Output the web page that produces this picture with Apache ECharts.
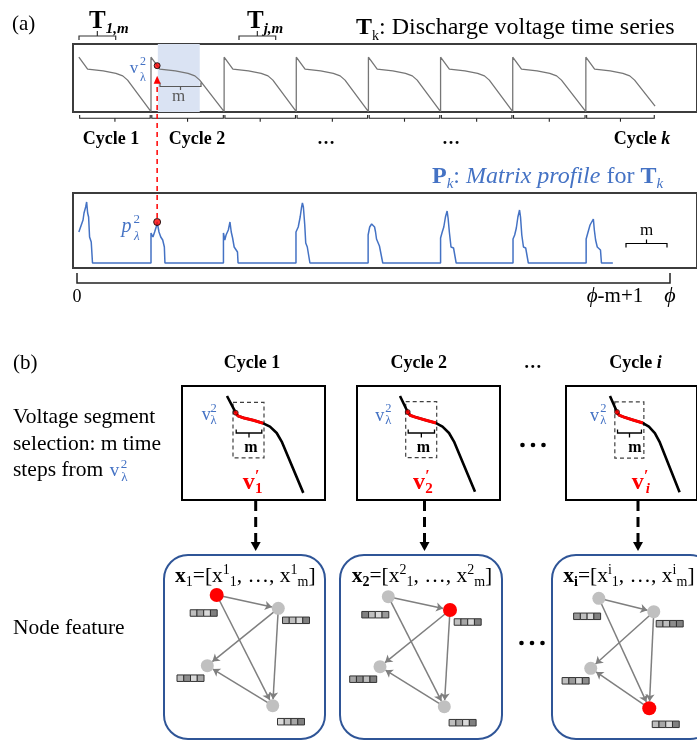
<!DOCTYPE html>
<html><head><meta charset="utf-8">
<script src="https://cdn.jsdelivr.net/npm/echarts@6/dist/echarts.min.js"></script>
<style>html,body{margin:0;padding:0;background:#fff}#c{width:697px;height:740px}</style>
</head><body><div id="c"></div>
<script>
// ---------------- DATA ----------------
const cycleStarts = [6, 80, 155, 229, 303, 377, 451, 526];
const lastCycleEnd = 597;
const voltageSeries = [
  [6,3.29],[15,3.01],[31,2.97],[44,2.91],[51,2.85],[56,2.75],[80,2.01],
  [80,3.29],[89,3.01],[105,2.97],[118,2.91],[125,2.85],[130,2.75],[155,2.01],
  [155,3.29],[164,3.01],[180,2.97],[193,2.91],[200,2.85],[205,2.75],[229,2.01],
  [229,3.29],[238,3.01],[254,2.97],[267,2.91],[274,2.85],[279,2.75],[303,2.01],
  [303,3.29],[312,3.01],[328,2.97],[341,2.91],[348,2.85],[353,2.75],[377,2.01],
  [377,3.29],[386,3.01],[402,2.97],[415,2.91],[422,2.85],[427,2.75],[451,2.01],
  [451,3.29],[460,3.01],[476,2.97],[489,2.91],[496,2.85],[501,2.75],[526,2.01],
  [526,3.29],[535,3.01],[551,2.97],[564,2.91],[571,2.85],[576,2.75],[597,2.14]
];
const voltagePoint = [86.3, 3.09];
const shadedWindow = [87, 130];
const profileSeries = [
  [6,3.1],[10.3,4.3],[11.3,5.0],[13,5.6],[14,6.1],[15,5.0],[16,4.6],[17,2.6],[18.7,2.1],[19.7,2.0],[20,0],
  [80,0],[80,3.0],[82,2.6],[83.7,3.1],[85.3,3.6],[86.3,4.1],[88.2,3.1],[90,2.6],[92,2.3],[93.7,1.6],[94.3,0],
  [154.3,0],[154.3,3.0],[155.7,2.3],[157,2.8],[159.3,3.3],[161,4.1],[162.3,3.1],[163.7,2.5],[165.3,1.6],[167,1.4],[168.7,1.1],[169.3,0],
  [228.7,0],[228.7,3.1],[231,3.6],[233,4.6],[234.3,5.5],[235.3,6.0],[236.3,5.6],[237,5.8],[237.7,3.8],[238.7,2.0],[240.3,1.6],[242,1.4],[243,0],
  [302.7,0],[302.7,2.8],[304.3,3.6],[306.3,3.9],[307.7,4.1],[309.3,3.6],[310.3,3.1],[311.3,2.4],[313,2.3],[314.3,1.7],[316.3,1.6],[317.7,0],
  [377,0],[377,2.5],[378.7,3.1],[380.3,3.6],[382,4.6],[383.7,5.2],[384.7,4.5],[386,3.1],[387.7,1.6],[390.3,1.5],[392.3,1.4],[393,0],
  [451.3,0],[451.3,2.4],[453,2.8],[454.7,3.5],[456.3,4.6],[458,5.3],[459,4.6],[460.3,2.8],[462,1.6],[464.3,1.5],[466.3,1.4],[467,0],
  [526.3,0],[526.3,2.4],[528,3.0],[530.3,3.8],[532,4.0],[533.7,4.4],[534.7,3.3],[536,2.3],[537.7,1.6],[539.7,1.4],[541,1.3],[542,0],
  [553.7,0]
];
const profilePoint = [86.3, 4.1];

const segCurve1 = [[45,3.46],[53.7,3.225],[56,3.18],[62,3.15],[71.3,3.12],[81.3,3.076],[88,3.03],[94.7,2.94],[99.7,2.82],[121.3,2.10]];
const segCurve2 = [[43,3.46],[50.7,3.235],[53,3.19],[59,3.16],[69,3.12],[79,3.08],[85.5,3.03],[92,2.94],[97,2.82],[118,2.115]];
const segCurveI = [[48,3.46],[55.7,3.235],[58,3.19],[64,3.16],[74,3.12],[84,3.08],[90.5,3.03],[97,2.94],[102,2.82],[124,2.11]];
const segRedRange = [1, 5];
const segWindow1 = [[51, 3.37], [82, 2.59]];
const segWindow2 = [[48.7, 3.38], [79.7, 2.594]];
const segWindowI = [[53.3, 3.376], [85, 2.589]];

const graphNodes1 = [[52.7,40],[114.3,53.3],[43.3,110.7],[108.7,150.7]];
const graphNodes2 = [[48.3,41.7],[110,55],[40,111.7],[104.3,151.7]];
const graphNodesI = [[52,43.3],[113,56.7],[43,113.3],[108,153.3]];
const redNodeIndex = [0, 1, 3];
const graphEdges = [[0,1],[0,3],[1,2],[1,3],[3,2]];
const featureShades1 = [[0.75,0.65,0.85,0.5],[0.65,0.75,0.85,0.5],[0.75,0.55,0.85,0.65],[0.85,0.75,0.65,0.5]];
const featureShades2 = [[0.5,0.75,0.85,0.6],[0.75,0.65,0.85,0.5],[0.65,0.55,0.75,0.5],[0.75,0.65,0.85,0.5]];
const featureShadesI = [[0.6,0.75,0.85,0.5],[0.65,0.75,0.55,0.5],[0.75,0.6,0.85,0.55],[0.75,0.65,0.85,0.5]];

// ---------------- LAYOUT / STYLE ----------------
const SERIF = "'Liberation Serif','Times New Roman',serif";
const BLUE = '#4472c4';
const featureOffsets = [[-13,18],[17.7,12],[-16.8,12.5],[18.3,16]];
const miniLefts = [182, 357, 566];
const graphLefts = [164, 340, 552];
const graphWidths = [161, 162, 162];
const segCurves = [segCurve1, segCurve2, segCurveI];
const segWindows = [segWindow1, segWindow2, segWindowI];
const graphNodes = [graphNodes1, graphNodes2, graphNodesI];
const featureShades = [featureShades1, featureShades2, featureShadesI];

const chart = echarts.init(document.getElementById('c'));

const grids = [
  {left:73, top:44, width:640, height:68, show:true, borderColor:'#3c3c3c', borderWidth:2},
  {left:73, top:193, width:640, height:75, show:true, borderColor:'#3c3c3c', borderWidth:2}
];
const xAxes = [
  {gridIndex:0, type:'value', min:0, max:640, show:false},
  {gridIndex:1, type:'value', min:0, max:640, show:false}
];
const yAxes = [
  {gridIndex:0, type:'value', min:2.0, max:3.6, show:false},
  {gridIndex:1, type:'value', min:-0.5, max:7, show:false}
];
for (let k = 0; k < 3; k++) {
  grids.push({left:miniLefts[k], top:386, width:143, height:114, show:true, borderColor:'#000', borderWidth:2});
  xAxes.push({gridIndex:2+k, type:'value', min:0, max:143, show:false});
  yAxes.push({gridIndex:2+k, type:'value', min:2.0, max:3.6, show:false});
}
for (let k = 0; k < 3; k++) {
  grids.push({left:graphLefts[k], top:555, width:161, height:184, show:false});
  xAxes.push({gridIndex:5+k, type:'value', min:0, max:161, show:false});
  yAxes.push({gridIndex:5+k, type:'value', min:0, max:184, inverse:true, show:false});
}

const dotStyle = {color:'#ff0000', borderColor:'#000', borderWidth:1};
const series = [
  {type:'line', xAxisIndex:0, yAxisIndex:0, data:voltageSeries, showSymbol:false, silent:true,
   lineStyle:{color:'#767676', width:1.3},
   markArea:{silent:true, itemStyle:{color:'#dae3f3'}, data:[[{xAxis:shadedWindow[0]},{xAxis:shadedWindow[1]}]]}},
  {type:'scatter', xAxisIndex:0, yAxisIndex:0, data:[voltagePoint], symbolSize:6, itemStyle:dotStyle, silent:true, z:5},
  {type:'line', xAxisIndex:1, yAxisIndex:1, data:profileSeries, showSymbol:false, silent:true,
   lineStyle:{color:BLUE, width:1.5}},
  {type:'scatter', xAxisIndex:1, yAxisIndex:1, data:[profilePoint], symbolSize:7, itemStyle:dotStyle, silent:true, z:5}
];
for (let k = 0; k < 3; k++) {
  const c = segCurves[k];
  const w = segWindows[k];
  series.push({type:'line', xAxisIndex:2+k, yAxisIndex:2+k, data:c, showSymbol:false, silent:true,
    lineStyle:{color:'#000', width:2.6}});
  series.push({type:'line', xAxisIndex:2+k, yAxisIndex:2+k, data:c.slice(segRedRange[0], segRedRange[1]+1),
    showSymbol:false, silent:true, lineStyle:{color:'#ff0000', width:3}, z:3,
    markArea:{silent:true, itemStyle:{color:'rgba(0,0,0,0)', borderColor:'#404040', borderWidth:1.2, borderType:[4,3]},
      data:[[{coord:w[0]},{coord:w[1]}]]}});
  series.push({type:'scatter', xAxisIndex:2+k, yAxisIndex:2+k, data:[c[segRedRange[0]]], symbolSize:5,
    itemStyle:{color:'#ff0000', borderColor:'#000', borderWidth:0.8}, silent:true, z:5});
}
for (let k = 0; k < 3; k++) {
  const nodes = graphNodes[k];
  series.push({type:'graph', coordinateSystem:'cartesian2d', xAxisIndex:5+k, yAxisIndex:5+k, layout:'none',
    data: nodes.map((p,i) => ({value:p, symbol:'circle', symbolSize: i===redNodeIndex[k] ? 14 : 13,
      itemStyle:{color: i===redNodeIndex[k] ? '#ff0000' : '#c0c0c0'}})),
    links: graphEdges.map(e => ({source:e[0], target:e[1]})),
    edgeSymbol:['none','arrow'], edgeSymbolSize:7,
    lineStyle:{color:'#7f7f7f', width:1.5, opacity:1},
    label:{show:false}, emphasis:{disabled:true}, silent:true, animation:false});
  series.push({type:'custom', xAxisIndex:5+k, yAxisIndex:5+k, silent:true,
    data: nodes.map((p,i) => [p[0]+featureOffsets[i][0], p[1]+featureOffsets[i][1]].concat(featureShades[k][i])),
    encode:{x:0, y:1},
    renderItem:(params, api) => {
      const c = api.coord([api.value(0), api.value(1)]);
      const W = 27, H = 6.5, cw = W/4, ch = [];
      for (let j = 0; j < 4; j++) {
        const g = Math.round(255*api.value(2+j));
        ch.push({type:'rect', shape:{x:c[0]-W/2+j*cw, y:c[1]-H/2, width:cw, height:H},
          style:{fill:`rgb(${g},${g},${g})`, stroke:'#333', lineWidth:1}});
      }
      return {type:'group', children:ch};
    }});
}

chart.setOption({animation:false, grid:grids, xAxis:xAxes, yAxis:yAxes, series:series});

// ---------------- ANNOTATIONS ----------------
function T(x, y, text, font, fill, align) {
  return {type:'text', x:x, y:y, z:100, style:{text:text, font:font, fill:fill||'#000',
    textAlign:align||'left', textVerticalAlign:'middle'}};
}
function R(x, y, text, rich, fill, align) {
  const r = {};
  for (const k in rich) r[k] = Object.assign({fontFamily:SERIF, fill:fill||'#000'}, rich[k]);
  return {type:'text', x:x, y:y, z:100, style:{text:text, rich:r, fontFamily:SERIF, fontSize:20,
    fill:fill||'#000', textAlign:align||'left', textVerticalAlign:'middle'}};
}
function poly(points, stroke, lw, dash) {
  return {type:'polyline', z:100, shape:{points:points}, style:{stroke:stroke, lineWidth:lw||1.2, fill:null, lineDash:dash||null}};
}
function bracketUp(x1, x2, y, h, t, col, lw) {
  const xm = (x1+x2)/2;
  return [poly([[x1,y-h],[x1,y],[x2,y],[x2,y-h]], col, lw), poly([[xm,y],[xm,y+t]], col, lw)];
}
function bracketDown(x1, x2, y, h, t, col, lw) {
  const xm = (x1+x2)/2;
  return [poly([[x1,y+h],[x1,y],[x2,y],[x2,y+h]], col, lw), poly([[xm,y],[xm,y-t]], col, lw)];
}
function f(size, w, s) { return `${s||'normal'} ${w||'normal'} ${size}px ${SERIF}`; }

const G = [];
// (a) texts
G.push(T(12, 24, '(a)', f(21)));
G.push(R(89, 22, '{T|T}{s|1,m}', {T:{fontSize:25, fontWeight:'bold', lineHeight:30}, s:{fontSize:15, fontWeight:'bold', fontStyle:'italic', lineHeight:19, verticalAlign:'bottom'}}));
G.push(R(247, 22, '{T|T}{s|j,m}', {T:{fontSize:25, fontWeight:'bold', lineHeight:30}, s:{fontSize:15, fontWeight:'bold', fontStyle:'italic', lineHeight:19, verticalAlign:'bottom'}}));
G.push(...bracketDown(79, 115.7, 36, 4, 5, '#333', 1.2));
G.push(...bracketDown(239, 275.7, 36, 4, 5, '#333', 1.2));
G.push(R(356, 28, '{T|T}{k|k}{n|: Discharge voltage time series}', {T:{fontSize:24, fontWeight:'bold', lineHeight:30}, k:{fontSize:14, lineHeight:12, verticalAlign:'bottom'}, n:{fontSize:24, lineHeight:30}}));
G.push(T(134, 69, 'v', f(17), BLUE, 'center'));
G.push(T(143, 61.5, '2', f(12), BLUE, 'center'));
G.push(T(143, 78, 'λ', f(12), BLUE, 'center'));
G.push(...bracketUp(160, 201, 86.5, 4, 3.5, '#595959', 1.2));
G.push(T(178.5, 96.5, 'm', f(17), '#595959', 'center'));
// cycle brackets and labels
const pxT = t => chart.convertToPixel({gridIndex:0}, [t, 3])[0];
const ends = cycleStarts.slice(1).concat([lastCycleEnd]);
for (let i = 0; i < cycleStarts.length; i++) {
  G.push(...bracketUp(pxT(cycleStarts[i]) + 0.8, pxT(ends[i]) - 0.8, 118.3, 3.3, 3.4, '#222', 1.1));
}
const bold18 = {b:{fontSize:18, fontWeight:'bold'}, bi:{fontSize:18, fontWeight:'bold', fontStyle:'italic'}};
G.push(R(111, 139, '{b|Cycle 1}', bold18, '#000', 'center'));
G.push(R(197, 139, '{b|Cycle 2}', bold18, '#000', 'center'));
G.push(R(326, 139, '{b|…}', bold18, '#000', 'center'));
G.push(R(451, 139, '{b|…}', bold18, '#000', 'center'));
G.push(R(642, 139, '{b|Cycle }{bi|k}', bold18, '#000', 'center'));
// matrix profile title
G.push(R(432, 177, '{b|P}{si|k}{n|: }{i|Matrix profile}{n| for }{b|T}{si|k}',
  {b:{fontSize:24, fontWeight:'bold', lineHeight:30}, si:{fontSize:15, fontStyle:'italic', lineHeight:18, verticalAlign:'bottom'},
   n:{fontSize:24, lineHeight:30}, i:{fontSize:24, fontStyle:'italic', lineHeight:30}}, BLUE));
G.push(T(126.5, 227, 'p', f(20, 'normal', 'italic'), BLUE, 'center'));
G.push(T(136.7, 220, '2', f(13), BLUE, 'center'));
G.push(T(136.7, 236.7, 'λ', f(13, 'normal', 'italic'), BLUE, 'center'));
// red dashed arrow
const pv = chart.convertToPixel({gridIndex:0}, voltagePoint);
const pp = chart.convertToPixel({gridIndex:1}, profilePoint);
G.push({type:'line', z:100, shape:{x1:pp[0], y1:pp[1]-4, x2:pv[0], y2:pv[1]+17}, style:{stroke:'#ff0000', lineWidth:1.5, lineDash:[5,4]}});
G.push({type:'polygon', z:100, shape:{points:[[pv[0]-3.5, pv[1]+18],[pv[0]+3.5, pv[1]+18],[pv[0], pv[1]+10]]}, style:{fill:'#ff0000'}});
// right m bracket
G.push(...bracketDown(626, 667, 243.5, 4, 4, '#000', 1.2));
G.push(T(646.7, 231, 'm', f(17), '#000', 'center'));
// bottom bracket
G.push(poly([[77,273],[77,283],[670,283],[670,273]], '#222', 1.5));
G.push(T(77, 297, '0', f(18), '#000', 'center'));
G.push(R(615, 296, '{i|ϕ}{n|-m+1}', {i:{fontSize:21, fontStyle:'italic'}, n:{fontSize:21}}, '#000', 'center'));
G.push(R(670, 296, '{i|ϕ}', {i:{fontSize:22, fontStyle:'italic'}}, '#000', 'center'));

// (b) texts
G.push(T(13, 363, '(b)', f(21)));
G.push(R(252, 363, '{b|Cycle 1}', bold18, '#000', 'center'));
G.push(R(418.8, 363, '{b|Cycle 2}', bold18, '#000', 'center'));
G.push(R(532.7, 363, '{b|…}', bold18, '#000', 'center'));
G.push(R(635.5, 363, '{b|Cycle }{bi|i}', bold18, '#000', 'center'));
G.push(T(13, 417.5, 'Voltage segment', f(21.5)));
G.push(T(13, 444, 'selection: m time', f(21.5)));
G.push(T(13, 470.5, 'steps from', f(21.5)));
G.push(T(114.5, 471, 'v', f(19), BLUE, 'center'));
G.push(T(124, 465, '2', f(13), BLUE, 'center'));
G.push(T(124.5, 477.5, 'λ', f(13), BLUE, 'center'));
G.push(T(13, 628, 'Node feature', f(21.5)));

const vLab = [[206.2,415.5,213.5],[379.7,416,388.3],[594.5,416,603.3]];
const mLab = [250.8, 423.3, 635];
const vpLab = [[248.8,'1',''],[419,'2',''],[637.8,'i','italic']];
for (let k = 0; k < 3; k++) {
  G.push(T(vLab[k][0], vLab[k][1], 'v', f(18), BLUE, 'center'));
  G.push(T(vLab[k][2], 408.5, '2', f(12.5), BLUE, 'center'));
  G.push(T(vLab[k][2], 420.8, 'λ', f(12.5), BLUE, 'center'));
  const c = segCurves[k];
  const p1 = chart.convertToPixel({gridIndex:2+k}, c[segRedRange[0]]);
  const p2 = chart.convertToPixel({gridIndex:2+k}, c[segRedRange[1]]);
  G.push(...bracketUp(p1[0]+0.5, p2[0]-1.5, 433, 3.5, 4.5, '#000', 1.3));
  G.push(T(mLab[k], 448, 'm', f(16, 'bold'), '#000', 'center'));
  const vx = vpLab[k][0];
  G.push(T(vx, 483, 'v', f(24, 'bold'), '#ff0000', 'center'));
  G.push(T(vx+8.5, 477, '′', f(16, 'bold'), '#ff0000', 'center'));
  G.push(T(vx+10, 489, vpLab[k][1], f(15, 'bold', vpLab[k][2] || 'normal'), '#ff0000', 'center'));
  const ax = [255.7, 424.5, 638][k];
  G.push({type:'line', z:100, shape:{x1:ax, y1:501, x2:ax, y2:542}, style:{stroke:'#000', lineWidth:3, lineDash:[10,6]}});
  G.push({type:'polygon', z:100, shape:{points:[[ax-5,542],[ax+5,542],[ax,551]]}, style:{fill:'#000'}});
  G.push({type:'rect', z:1, shape:{x:graphLefts[k], y:555, width:graphWidths[k], height:184, r:24}, style:{fill:null, stroke:'#2f5597', lineWidth:2}});
}
const fr = {n:{fontSize:21.5, lineHeight:26}, b:{fontSize:21.5, fontWeight:'bold', lineHeight:26},
  sp:{fontSize:14, lineHeight:16, verticalAlign:'top'}, sb:{fontSize:14, lineHeight:17, verticalAlign:'bottom'},
  sbb:{fontSize:14, fontWeight:'bold', lineHeight:17, verticalAlign:'bottom'}};
G.push(R(175, 576, '{b|x}{sb|1}{n|=[x}{sp|1}{sb|1}{n|, …, x}{sp|1}{sb|m}{n|]}', fr));
G.push(R(351.7, 576, '{b|x}{sbb|2}{n|=[x}{sp|2}{sb|1}{n|, …, x}{sp|2}{sb|m}{n|]}', fr));
G.push(R(563.3, 576, '{b|x}{sbb|i}{n|=[x}{sp|i}{sb|1}{n|, …, x}{sp|i}{sb|m}{n|]}', fr));
[[533,445],[532,643]].forEach(p => {
  for (let j = -1; j <= 1; j++) G.push({type:'circle', z:100, shape:{cx:p[0]+j*10.5, cy:p[1], r:2.3}, style:{fill:'#000'}});
});

chart.setOption({graphic:{elements:G}});
</script></body></html>
